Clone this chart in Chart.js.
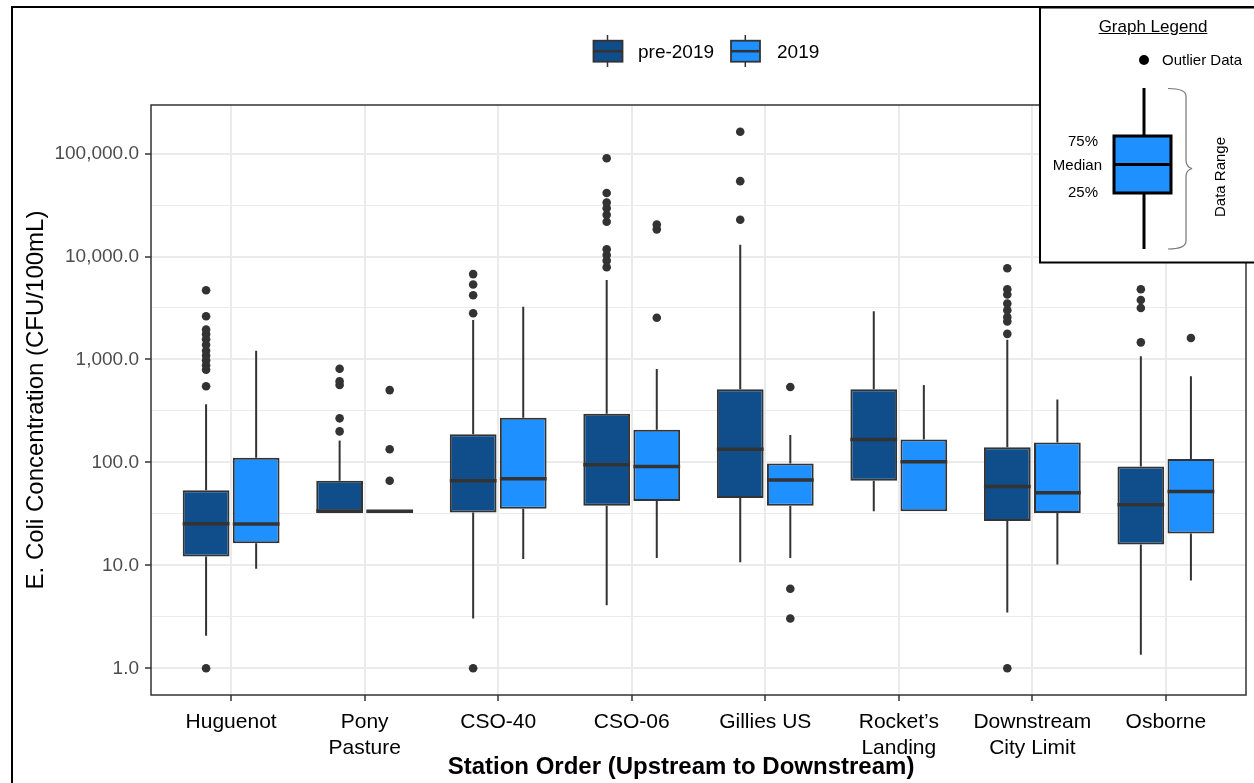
<!DOCTYPE html>
<html>
<head>
<meta charset="utf-8">
<script src="https://cdn.jsdelivr.net/npm/chart.js@4.4.1/dist/chart.umd.min.js"></script>
<style>
  html, body { margin: 0; padding: 0; background: #fff; }
  body { width: 1254px; height: 783px; position: relative; overflow: hidden; font-family: "Liberation Sans", Arial, sans-serif; }
  #chart { position: absolute; left: 0; top: 0; z-index: 1; }
  #overlay { position: absolute; left: 0; top: 0; z-index: 2; }
  .txt { position: absolute; z-index: 3; white-space: nowrap; color: #000; }
</style>
</head>
<body>
<canvas id="chart" width="1254" height="783"></canvas>

<svg id="overlay" width="1254" height="783">
  <!-- outer frame -->
  <path d="M12,783 V7 H1254" fill="none" stroke="#000" stroke-width="2"/>
  <!-- top legend keys -->
  <line x1="607.5" y1="35" x2="607.5" y2="67" stroke="#333" stroke-width="1.5"/>
  <rect x="593.5" y="40.7" width="29" height="21" fill="#104E8B" stroke="#333" stroke-width="1.8"/>
  <line x1="593.5" y1="51.2" x2="622.5" y2="51.2" stroke="#333" stroke-width="2.5"/>
  <line x1="745.3" y1="35" x2="745.3" y2="67" stroke="#333" stroke-width="1.5"/>
  <rect x="731" y="40.7" width="29" height="21" fill="#1E90FF" stroke="#333" stroke-width="1.8"/>
  <line x1="731" y1="51.2" x2="760" y2="51.2" stroke="#333" stroke-width="2.5"/>
  <!-- inset legend -->
  <rect x="1040" y="7.5" width="240" height="255" fill="#fff" stroke="#000" stroke-width="2"/>
  <circle cx="1144" cy="60" r="5" fill="#000"/>
  <line x1="1144" y1="88" x2="1144" y2="249" stroke="#000" stroke-width="3"/>
  <rect x="1114" y="136" width="57" height="57" fill="#1E90FF" stroke="#000" stroke-width="3"/>
  <line x1="1114" y1="164.5" x2="1171" y2="164.5" stroke="#000" stroke-width="3"/>
  <path d="M1168,88.5 Q1186,88.5 1186,96 L1186,160 Q1186,167 1192,168.5 Q1186,170 1186,177 L1186,241 Q1186,249 1168,249"
        fill="none" stroke="#777" stroke-width="1.2"/>
</svg>

<div class="txt" style="left:638px; top:40.7px; font-size:19px; line-height:22px;">pre-2019</div>
<div class="txt" style="left:777px; top:40.7px; font-size:19px; line-height:22px;">2019</div>

<div class="txt" style="left:1153px; top:17px; font-size:17px; line-height:20px; transform:translateX(-50%); text-decoration:underline;">Graph Legend</div>
<div class="txt" style="left:1162px; top:51px; font-size:15px; line-height:18px;">Outlier Data</div>
<div class="txt" style="right:156px; top:132px; font-size:15px; line-height:18px;">75%</div>
<div class="txt" style="right:152px; top:155.5px; font-size:15px; line-height:18px;">Median</div>
<div class="txt" style="right:156px; top:183px; font-size:15px; line-height:18px;">25%</div>
<div class="txt" style="left:1220px; top:177px; font-size:15px; line-height:18px; transform:translate(-50%,-50%) rotate(-90deg);">Data Range</div>

<div class="txt" style="left:681px; top:752px; font-size:24px; line-height:28px; font-weight:bold; transform:translateX(-50%);">Station Order (Upstream to Downstream)</div>

<script>
const stations = ['Huguenot', ['Pony', 'Pasture'], 'CSO-40', 'CSO-06', 'Gillies US', ['Rocket\u2019s', 'Landing'], ['Downstream', 'City Limit'], 'Osborne'];
const groups = ['pre-2019', '2019'];

// pre-2019 box stats (CFU/100mL)
const preLow  = [2.07, 33.5, 3.04, 4.1, 10.7, 33.5, 3.48, 1.35];
const preQ1   = [12.2, 33.5, 32.6, 38, 45.1, 66.3, 27, 15.9];
const preMed  = [25.4, 33.5, 66.3, 95, 134, 167, 58.2, 38.7];
const preQ3   = [53.5, 66.3, 188, 297, 513, 513, 140, 91.3];
const preHigh = [368, 163, 2420, 5930, 13030, 2940, 1550, 1074];
const preOutliers = [
    [1.0, 549, 794, 880, 984, 1091, 1217, 1386, 1574, 1761, 1951, 2633, 4710],
    [200, 268, 564, 614, 813],
    [1.0, 2816, 4210, 5350, 6750],
    [7880, 9120, 10350, 11750, 21800, 25400, 29400, 33400, 41400, 90200],
    [22750, 54000, 163000],
    [],
    [1.0, 1773, 2344, 2587, 3005, 3490, 4270, 4810, 7690],
    [1466, 3162, 3785, 4810]
];

// 2019 box stats
const newLow  = [9.26, 33.5, 11.5, 11.8, 11.8, 33.5, 10.2, 7.14];
const newQ1   = [16.4, 33.5, 35.5, 42.1, 38, 33.5, 32.3, 20.4];
const newMed  = [25.2, 33.5, 69.2, 91, 67.5, 101.6, 50.6, 52.2];
const newQ3   = [111, 33.5, 272, 207, 97.4, 167, 156, 108];
const newHigh = [1217, 33.5, 3256, 809, 185, 564, 408, 687];
const newOutliers = [[], [66.3, 134, 504], [], [2540, 18360, 20500], [3.04, 5.93, 540], [], [], [1617]];

const yMajor = [1, 10, 100, 1000, 10000, 100000];
const yMinor = [3.162, 31.62, 316.2, 3162, 31623];

const fills = ['#104E8B', '#1E90FF'];
const dodge = 0.1875;
const font = '"Liberation Sans", Arial, sans-serif';

const stats = [
    { low: preLow, q1: preQ1, med: preMed, q3: preQ3, high: preHigh, out: preOutliers },
    { low: newLow, q1: newQ1, med: newMed, q3: newQ3, high: newHigh, out: newOutliers }
];

function outlierPoints(out, shift) {
    const pts = [];
    out.forEach((vals, i) => vals.forEach(v => pts.push({ x: i + 1 + shift, y: v })));
    return pts;
}

const boxDatasets = stats.map((s, d) => ({
    label: groups[d],
    data: s.q1.map((q, i) => [q, s.q3[i]]),
    backgroundColor: fills[d],
    borderColor: '#333333',
    borderWidth: 2,
    borderSkipped: false,
    categoryPercentage: 0.75,
    barPercentage: 0.9333
}));

const outlierDatasets = stats.map((s, d) => ({
    type: 'scatter',
    label: groups[d] + ' outliers',
    data: outlierPoints(s.out, d === 0 ? -dodge : dodge),
    pointRadius: 4.3,
    pointBackgroundColor: '#333333',
    pointBorderWidth: 0
}));

// whiskers, medians and the panel border
const boxExtras = {
    id: 'boxExtras',
    beforeDatasetsDraw(chart) {
        const ctx = chart.ctx, y = chart.scales.y;
        ctx.save();
        ctx.strokeStyle = '#333333';
        ctx.lineWidth = 2;
        stats.forEach((s, d) => {
            chart.getDatasetMeta(d).data.forEach((bar, i) => {
                ctx.beginPath();
                ctx.moveTo(bar.x, y.getPixelForValue(s.q3[i]));
                ctx.lineTo(bar.x, y.getPixelForValue(s.high[i]));
                ctx.moveTo(bar.x, y.getPixelForValue(s.q1[i]));
                ctx.lineTo(bar.x, y.getPixelForValue(s.low[i]));
                ctx.stroke();
            });
        });
        ctx.restore();
    },
    afterDatasetsDraw(chart) {
        const ctx = chart.ctx, y = chart.scales.y, a = chart.chartArea;
        ctx.save();
        ctx.strokeStyle = '#333333';
        ctx.lineWidth = 3.5;
        stats.forEach((s, d) => {
            chart.getDatasetMeta(d).data.forEach((bar, i) => {
                const py = y.getPixelForValue(s.med[i]);
                ctx.beginPath();
                ctx.moveTo(bar.x - bar.width / 2, py);
                ctx.lineTo(bar.x + bar.width / 2, py);
                ctx.stroke();
            });
        });
        ctx.lineWidth = 1.5;
        ctx.strokeRect(a.left, a.top, a.right - a.left, a.bottom - a.top);
        ctx.restore();
    }
};

const isMajor = v => yMajor.includes(v);

new Chart(document.getElementById('chart'), {
    type: 'bar',
    data: {
        labels: stations.map((s, i) => i + 1),
        datasets: [...boxDatasets, ...outlierDatasets]
    },
    options: {
        responsive: false,
        animation: false,
        devicePixelRatio: 1,
        layout: { padding: { left: 13, top: 105, right: 8, bottom: 0 } },
        plugins: { legend: { display: false }, tooltip: { enabled: false } },
        scales: {
            x: {
                type: 'linear',
                min: 0.4,
                max: 8.6,
                offset: false,
                afterBuildTicks: s => { s.ticks = stations.map((n, i) => ({ value: i + 1 })); },
                afterFit: s => { s.height = 88; },
                border: { display: false },
                grid: { offset: false, color: '#ebebeb', lineWidth: 2, tickColor: '#333333', tickLength: 6, tickWidth: 1.5 },
                ticks: {
                    autoSkip: false, minRotation: 0, maxRotation: 0, padding: 9,
                    color: '#000', font: { family: font, size: 21, lineHeight: 1.2 },
                    callback: (v, i) => stations[i]
                }
            },
            y: {
                type: 'logarithmic',
                min: 0.55,
                max: 296500,
                afterBuildTicks: s => { s.ticks = [...yMajor, ...yMinor].sort((a, b) => a - b).map(v => ({ value: v })); },
                afterFit: s => { s.width = 138; },
                border: { display: false },
                grid: {
                    color: '#ebebeb',
                    lineWidth: c => (c.tick && isMajor(c.tick.value)) ? 2 : 1,
                    tickColor: c => (c.tick && isMajor(c.tick.value)) ? '#333333' : 'rgba(0,0,0,0)',
                    tickLength: 6,
                    tickWidth: 1.5
                },
                title: {
                    display: true,
                    text: 'E. Coli Concentration (CFU/100mL)',
                    color: '#000',
                    font: { family: font, size: 24 },
                    padding: { top: 9 }
                },
                ticks: {
                    padding: 6,
                    color: '#4d4d4d',
                    font: { family: font, size: 19 },
                    callback: v => isMajor(v) ? v.toLocaleString('en-US', { minimumFractionDigits: 1, maximumFractionDigits: 1 }) : ''
                }
            }
        }
    },
    plugins: [boxExtras]
});
</script>
</body>
</html>
